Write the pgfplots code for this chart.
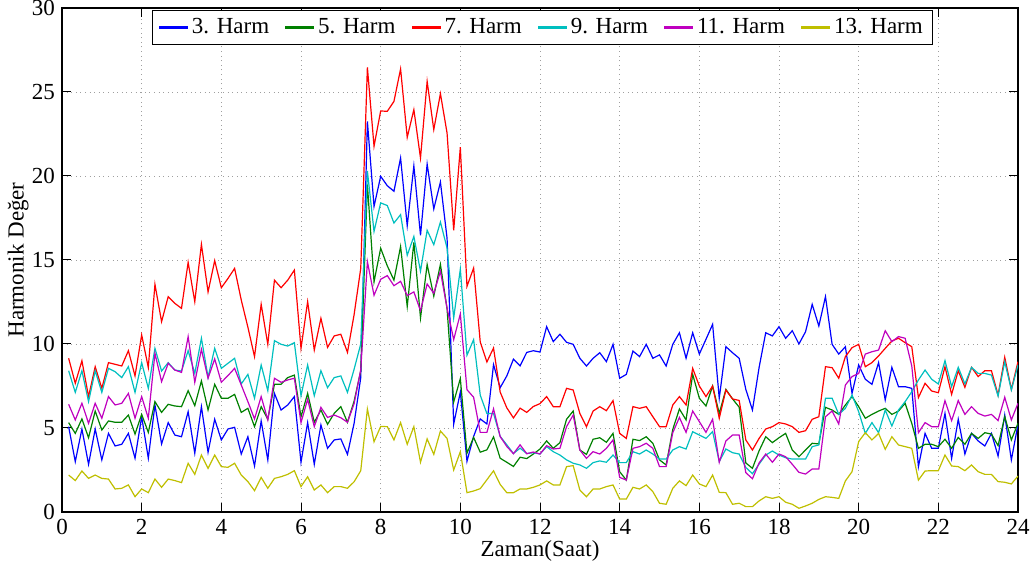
\documentclass[border=0pt]{standalone}
\usepackage{fontspec}
\setmainfont{Liberation Serif}
\usepackage{pgfplots}
\usepackage{pgfplotstable}
\pgfplotsset{compat=1.18}

% MATLAB-like default line colours
\definecolor{harmthree}{rgb}{0,0,1}
\definecolor{harmfive}{rgb}{0,0.5,0}
\definecolor{harmseven}{rgb}{1,0,0}
\definecolor{harmnine}{rgb}{0,0.75,0.75}
\definecolor{harmeleven}{rgb}{0.75,0,0.75}
\definecolor{harmthirteen}{rgb}{0.75,0.75,0}

% harmonic levels sampled every 10 minutes over one day
\pgfplotstableread{
t h3 h5 h7 h9 h11 h13
0.1667 5.08 5.32 9.15 8.41 6.41 2.20
0.3333 3.00 4.68 7.66 7.12 5.48 1.87
0.5 4.94 5.54 9.00 8.41 6.47 2.44
0.6667 2.84 4.42 6.87 6.57 5.28 2.00
0.8333 4.94 6.01 8.65 8.41 6.47 2.20
1.0 3.10 4.88 7.36 7.12 5.58 2.00
1.1667 4.68 5.42 8.89 8.55 6.87 1.96
1.3333 3.93 5.34 8.79 8.35 6.37 1.37
1.5 4.03 5.34 8.69 8.00 6.47 1.41
1.6667 4.68 5.77 9.60 8.65 7.06 1.61
1.8333 3.20 4.64 8.10 7.12 5.58 0.91
2.0 5.67 5.81 10.54 8.89 6.87 1.37
2.1667 3.20 4.74 8.60 7.36 5.58 1.15
2.3333 6.37 6.57 13.55 9.74 9.44 1.96
2.5 4.05 5.93 11.33 8.39 7.76 1.47
2.6667 5.32 6.41 12.82 8.89 8.85 1.96
2.8333 4.58 6.31 12.42 8.45 8.45 1.87
3.0 4.48 6.27 12.12 8.39 8.31 1.75
3.1667 5.97 7.22 14.86 9.60 10.44 2.90
3.3333 3.50 6.33 12.52 8.25 7.72 2.24
3.5 6.27 7.80 15.93 10.34 9.68 3.39
3.6667 3.55 6.07 13.10 8.02 7.96 2.60
3.8333 5.52 7.60 14.96 9.74 9.11 3.39
4.0 4.29 6.77 13.35 8.55 7.72 2.70
4.1667 4.94 6.77 13.90 8.85 8.12 2.66
4.3333 5.04 7.00 14.50 9.15 8.55 2.90
4.5 3.45 5.93 12.62 7.62 7.56 2.20
4.6667 4.48 6.17 11.00 8.19 6.57 1.81
4.8333 2.74 5.08 9.25 6.77 5.54 1.27
5.0 5.42 6.27 12.36 8.75 6.87 2.06
5.1667 3.10 5.52 9.98 7.22 5.48 1.41
5.3333 7.06 7.60 13.80 10.20 7.96 2.00
5.5 6.07 7.60 13.35 9.98 7.72 2.10
5.6667 6.37 8.00 13.80 9.88 7.86 2.24
5.8333 6.87 8.15 14.40 10.08 7.96 2.46
6.0 2.96 5.67 9.74 6.92 5.32 1.51
6.1667 5.32 7.06 12.52 8.75 6.71 2.10
6.3333 2.84 5.34 9.64 6.92 5.08 1.31
6.5 5.18 6.07 11.53 8.41 6.23 1.61
6.6667 3.79 5.22 9.80 7.40 5.63 1.15
6.8333 4.29 5.87 10.48 8.00 5.77 1.51
7.0 4.35 6.27 10.58 8.10 5.61 1.51
7.1667 3.43 5.34 9.50 7.12 5.34 1.41
7.3333 5.28 6.60 11.75 8.50 6.45 1.80
7.5 8.00 8.40 14.50 10.00 8.47 2.46
7.6667 23.25 19.50 26.47 20.30 14.90 6.13
7.8333 18.19 13.70 21.77 16.70 12.90 4.18
8.0 19.98 15.70 23.87 18.40 13.85 5.09
8.1667 19.42 14.65 23.85 18.24 14.07 5.08
8.3333 19.09 13.80 24.44 17.20 13.47 4.29
8.5 21.07 15.80 26.37 17.70 13.73 5.32
8.6667 17.04 12.23 22.30 15.28 12.88 4.03
8.8333 20.60 16.05 23.95 16.40 13.10 5.08
9.0 16.47 11.55 21.07 14.33 11.98 2.96
9.1667 20.71 14.73 25.63 16.77 13.57 4.35
9.3333 18.04 12.85 22.76 15.91 13.02 3.43
9.5 19.64 14.74 24.90 17.26 14.33 4.82
9.6667 16.30 12.10 22.56 15.71 12.14 4.38
9.8333 5.24 6.55 16.77 11.55 10.26 2.50
10.0 7.14 7.94 21.71 14.46 11.79 3.59
10.1667 3.02 3.50 13.43 9.33 7.28 1.15
10.3333 4.50 4.44 14.52 10.26 6.83 1.25
10.5 5.54 3.56 10.12 6.95 4.74 1.39
10.6667 5.24 3.70 8.93 5.86 4.74 1.92
10.8333 8.77 4.47 9.76 5.86 6.14 2.45
11.0 7.40 3.20 7.14 4.50 4.49 1.64
11.1667 8.10 2.96 6.20 4.00 3.90 1.15
11.3333 9.10 2.71 5.60 3.48 3.47 1.15
11.5 8.70 3.26 6.18 3.80 4.00 1.37
11.6667 9.50 3.18 5.93 3.48 3.47 1.37
11.8333 9.60 3.45 6.28 3.53 3.57 1.47
12.0 9.52 3.75 6.45 3.45 3.45 1.61
12.1667 11.03 4.23 6.87 3.89 3.95 1.85
12.3333 10.14 3.79 6.27 3.59 3.75 1.61
12.5 10.58 4.13 6.27 3.39 3.79 1.61
12.6667 10.10 5.52 7.36 3.10 5.08 2.70
12.8333 9.98 6.01 7.26 2.90 5.77 2.76
13.0 9.15 3.69 5.87 2.80 3.69 1.31
13.1667 8.69 3.43 5.08 2.60 3.19 0.91
13.3333 9.15 4.33 6.01 2.94 3.59 1.37
13.5 9.48 4.42 6.27 3.04 3.45 1.37
13.6667 8.95 4.15 6.03 2.96 3.79 1.51
13.8333 9.98 4.68 6.63 3.39 4.29 1.61
14.0 7.96 2.40 4.68 2.94 2.06 0.77
14.1667 8.19 1.90 4.38 2.94 1.90 0.77
14.3333 9.58 4.33 6.27 3.59 3.79 1.47
14.5 9.25 4.25 6.17 3.45 3.89 1.37
14.6667 9.98 4.48 6.27 3.69 4.09 1.61
14.8333 9.15 4.09 5.67 3.45 3.79 1.21
15.0 9.35 3.10 5.08 3.15 2.70 0.52
15.1667 8.69 2.80 5.08 3.15 2.70 0.46
15.3333 9.98 4.92 6.37 3.69 4.72 1.41
15.5 10.67 6.13 6.87 3.89 5.63 1.85
15.6667 9.15 5.48 6.37 3.75 4.74 1.57
15.8333 10.67 8.19 8.55 4.78 6.01 2.20
16.0 9.40 6.77 7.50 4.58 5.38 1.67
16.1667 10.28 6.31 6.87 4.38 4.74 1.51
16.3333 11.17 7.50 7.50 4.78 5.52 2.20
16.5 6.77 5.87 5.58 3.00 2.96 1.17
16.6667 9.84 7.30 7.26 3.75 4.23 1.15
16.8333 9.48 6.73 6.73 3.53 4.58 0.46
17.0 9.15 6.24 6.64 3.45 4.58 0.52
17.1667 7.30 2.92 4.29 2.65 2.34 0.32
17.3333 6.07 2.60 3.69 2.28 1.98 0.32
17.5 8.60 3.64 4.38 2.85 2.92 0.66
17.6667 10.67 4.48 4.94 3.39 3.45 0.91
17.8333 10.48 4.13 5.08 3.63 2.96 0.81
18.0 11.03 4.42 5.32 3.39 3.45 0.91
18.1667 10.34 4.68 5.24 3.23 3.29 0.58
18.3333 10.79 3.69 5.08 3.15 2.84 0.46
18.5 10.00 3.29 4.74 3.15 2.36 0.22
18.6667 10.73 3.69 4.84 3.15 2.26 0.36
18.8333 12.36 4.09 5.52 3.89 2.56 0.52
19.0 11.07 4.05 5.67 3.99 2.56 0.75
19.1667 12.82 6.23 8.65 6.77 5.67 0.91
19.3333 9.98 6.07 8.59 6.77 6.01 0.87
19.5 9.40 5.81 7.96 5.81 5.24 0.81
19.6667 9.84 6.37 9.25 6.17 7.56 1.85
19.8333 7.06 6.87 9.78 6.96 8.06 2.40
20.0 8.75 6.27 9.98 5.97 8.25 4.19
20.1667 7.90 5.58 8.65 4.68 9.40 4.72
20.3333 7.60 5.81 8.89 5.32 9.54 4.29
20.5 8.89 6.01 9.29 4.72 9.64 4.68
20.6667 6.67 6.17 9.74 6.07 10.79 3.73
20.8333 8.61 5.81 10.18 5.12 10.14 4.48
21.0 7.46 6.01 10.34 6.07 10.44 3.99
21.1667 7.46 6.47 10.08 6.57 10.34 3.89
21.3333 7.36 5.28 9.84 7.16 8.69 3.79
21.5 2.70 3.79 6.81 7.86 4.72 1.90
21.6667 4.68 4.03 7.66 8.45 5.32 2.44
21.8333 3.79 4.03 7.20 7.90 5.08 2.46
22.0 3.79 3.89 7.10 7.62 5.08 2.46
22.1667 5.87 4.33 8.65 9.01 6.63 3.39
22.3333 3.19 3.79 7.00 7.46 5.44 2.74
22.5 5.52 4.44 8.41 8.61 6.63 2.70
22.6667 3.45 4.03 7.42 7.62 5.81 2.46
22.8333 4.68 4.68 8.61 8.61 6.27 2.80
23.0 4.23 4.38 8.06 8.25 5.87 2.40
23.1667 3.93 4.72 8.41 8.25 5.71 2.24
23.3333 4.68 4.64 8.41 8.15 5.81 2.24
23.5 3.33 3.95 6.96 6.90 5.44 1.81
23.6667 5.77 5.67 9.21 8.95 6.83 1.77
23.8333 3.10 4.29 7.30 7.26 5.48 1.67
24.0 5.22 5.28 8.95 8.75 6.47 2.14
}\harm

% legend key: a thin filled bar in the series colour
\pgfplotsset{harmkey/.style={legend image code/.code={\fill[#1] (0pt,-0.35pt) rectangle (14pt,0.35pt);}}}

\begin{document}
\begin{tikzpicture}
\useasboundingbox (-31pt,-29.5pt) rectangle (485pt,256pt);
\begin{axis}[
  scale only axis,
  width=478pt, height=252pt,
  xmin=0, xmax=24, ymin=0, ymax=30,
  xtick={0,2,...,24}, ytick={0,5,...,30},
  tick align=inside, tick pos=both,
  major tick length=4.5pt,
  every tick/.style={black, line width=0.5pt},
  axis line style={line width=0.6pt},
  grid=major,
  major grid style={gray!75, line width=0.4pt, dash pattern=on 0.5pt off 1.8pt},
  font=\fontsize{11.5pt}{13pt}\selectfont,
  /pgf/number format/assume math mode=true,
  xlabel={Zaman(Saat)},
  ylabel={Harmonik Değer},
  xlabel style={at={(axis description cs:0.5,-0.0774)}, anchor=center},
  ylabel style={at={(axis description cs:-0.046,0.5)}, anchor=center},
  no markers,
  legend columns=6,
  legend style={at={(axis description cs:0.503,0.996)}, anchor=north,
    draw=black, line width=0.5pt, fill=white, text=black,
    font=\fontsize{11.5pt}{13pt}\selectfont,
    /tikz/every even column/.append style={column sep=6pt}},
]
\addplot[draw=harmthree, line width=0.6pt, forget plot]    table[x=t, y=h3]  {\harm};
\addplot[draw=harmfive, line width=0.6pt, forget plot]     table[x=t, y=h5]  {\harm};
\addplot[draw=harmseven, line width=0.6pt, forget plot]    table[x=t, y=h7]  {\harm};
\addplot[draw=harmnine, line width=0.6pt, forget plot]     table[x=t, y=h9]  {\harm};
\addplot[draw=harmeleven, line width=0.6pt, forget plot]   table[x=t, y=h11] {\harm};
\addplot[draw=harmthirteen, line width=0.6pt, forget plot] table[x=t, y=h13] {\harm};
% legend keys
\addlegendimage{harmkey=harmthree}
\addlegendentry{3. Harm}
\addlegendimage{harmkey=harmfive}
\addlegendentry{5. Harm}
\addlegendimage{harmkey=harmseven}
\addlegendentry{7. Harm}
\addlegendimage{harmkey=harmnine}
\addlegendentry{9. Harm}
\addlegendimage{harmkey=harmeleven}
\addlegendentry{11. Harm}
\addlegendimage{harmkey=harmthirteen}
\addlegendentry{13. Harm}
\end{axis}
\end{tikzpicture}
\end{document}
